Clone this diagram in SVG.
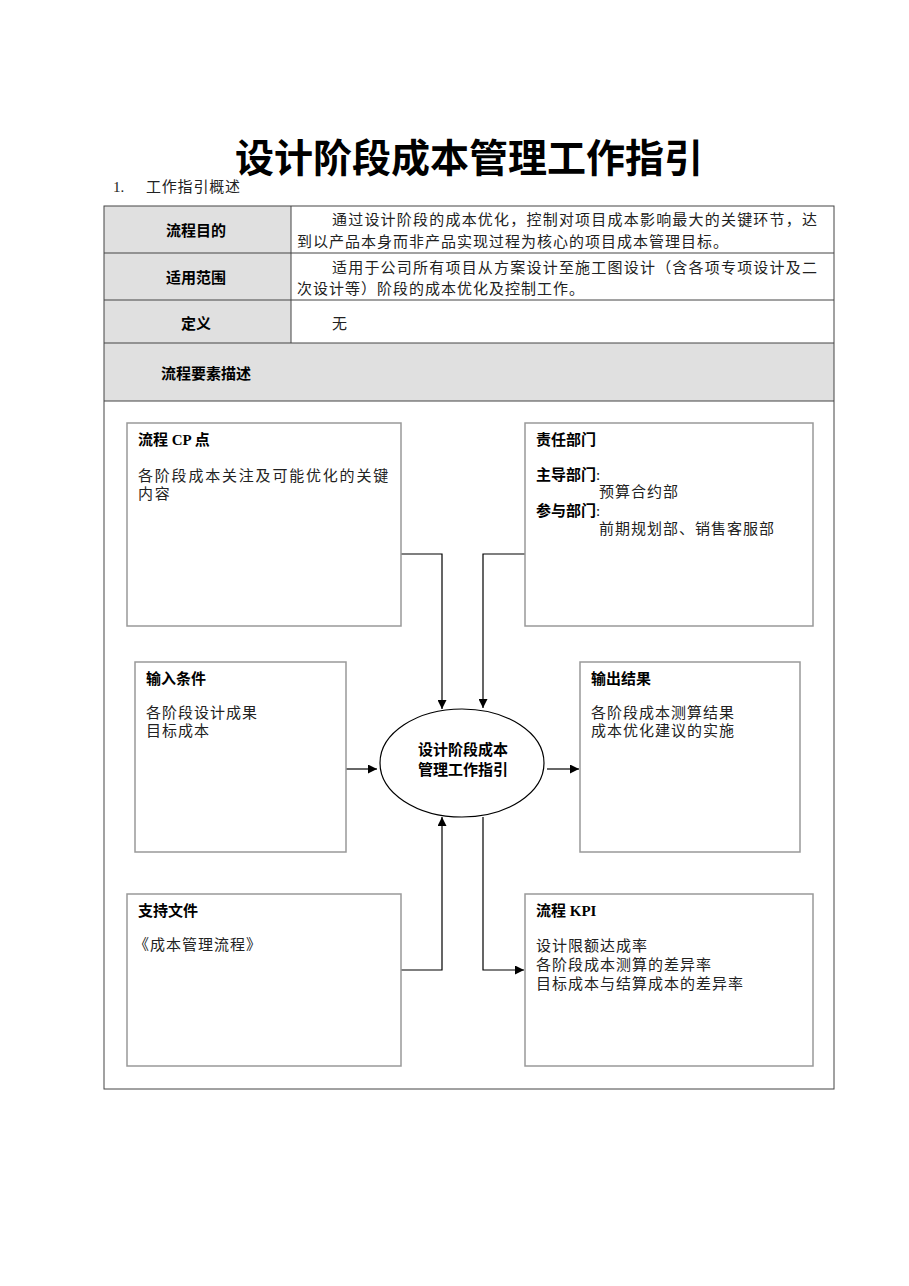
<svg xmlns="http://www.w3.org/2000/svg" width="909" height="1286" viewBox="0 0 909 1286">
<style>
.t{font-family:"Liberation Serif","Noto Sans CJK SC",serif;font-size:15px;fill:#222;letter-spacing:1px}
.b{font-family:"Liberation Serif","Noto Sans CJK SC",sans-serif;font-size:15px;font-weight:bold;fill:#000}
.box{fill:#fff;stroke:#999;stroke-width:1.5}
.tl{stroke:#444;stroke-width:1;fill:none}
.gr{fill:#e0e0e0}
.c{fill:none;stroke:#000;stroke-width:1.2}
</style>
<defs>
<marker id="ah" viewBox="0 0 10 10" refX="10" refY="5" markerWidth="9" markerHeight="9" markerUnits="userSpaceOnUse" orient="auto">
<path d="M0,0 L10,5 L0,10 z" fill="#000"/>
</marker>
</defs>
<rect width="909" height="1286" fill="#fff"/>
<text x="469" y="172" text-anchor="middle" font-family="Noto Sans CJK SC,sans-serif" font-size="39" font-weight="bold" fill="#000">设计阶段成本管理工作指引</text>
<text x="113" y="192" class="t" style="letter-spacing:0">1.</text>
<text x="146" y="192" class="t" style="letter-spacing:0.8px">工作指引概述</text>
<g id="table">
<rect x="104" y="206" width="187" height="137" class="gr"/>
<rect x="104" y="343" width="730" height="58" class="gr"/>
<rect x="104" y="206" width="730" height="883" class="tl"/>
<line x1="104" y1="253" x2="834" y2="253" class="tl"/>
<line x1="104" y1="300" x2="834" y2="300" class="tl"/>
<line x1="104" y1="343" x2="834" y2="343" class="tl"/>
<line x1="104" y1="401" x2="834" y2="401" class="tl"/>
<line x1="291" y1="206" x2="291" y2="343" class="tl"/>
<text x="196" y="236" text-anchor="middle" class="b">流程目的</text>
<text x="196" y="283" text-anchor="middle" class="b">适用范围</text>
<text x="196" y="329" text-anchor="middle" class="b">定义</text>
<text x="161" y="379" class="b">流程要素描述</text>
<text x="332" y="225" class="t" textLength="486" lengthAdjust="spacing">通过设计阶段的成本优化，控制对项目成本影响最大的关键环节，达</text>
<text x="297" y="247" class="t">到以产品本身而非产品实现过程为核心的项目成本管理目标。</text>
<text x="332" y="273" class="t" textLength="486" lengthAdjust="spacing">适用于公司所有项目从方案设计至施工图设计（含各项专项设计及二</text>
<text x="297" y="294" class="t">次设计等）阶段的成本优化及控制工作。</text>
<text x="332" y="329" class="t">无</text>
</g>
<g id="connectors">
<polyline points="401,554 442,554 442,709" class="c" marker-end="url(#ah)"/>
<polyline points="525,554 483,554 483,708" class="c" marker-end="url(#ah)"/>
<line x1="346" y1="769" x2="377" y2="769" class="c" marker-end="url(#ah)"/>
<line x1="547" y1="769" x2="579" y2="769" class="c" marker-end="url(#ah)"/>
<polyline points="401,970 442,970 442,817" class="c" marker-end="url(#ah)"/>
<polyline points="483,817 483,970 524,970" class="c" marker-end="url(#ah)"/>
</g>
<g id="center">
<ellipse cx="462" cy="763" rx="82" ry="54" fill="#fff" stroke="#000" stroke-width="1.2"/>
<text x="463" y="755" text-anchor="middle" class="b">设计阶段成本</text>
<text x="463" y="775" text-anchor="middle" class="b">管理工作指引</text>
</g>
<g id="cp">
<rect x="127" y="423" width="274" height="203" class="box"/>
<text x="138" y="445" class="b">流程 CP 点</text>
<text x="138" y="481" class="t" style="letter-spacing:1.8px">各阶段成本关注及可能优化的关键</text>
<text x="138" y="499" class="t" style="letter-spacing:1.8px">内容</text>
</g>
<g id="dept">
<rect x="525" y="423" width="288" height="203" class="box"/>
<text x="536" y="445" class="b">责任部门</text>
<text x="536" y="480" class="b">主导部门<tspan font-weight="normal">:</tspan></text>
<text x="599" y="497" class="t">预算合约部</text>
<text x="536" y="516" class="b">参与部门<tspan font-weight="normal">:</tspan></text>
<text x="599" y="534" class="t">前期规划部、销售客服部</text>
</g>
<g id="input">
<rect x="135" y="662" width="211" height="190" class="box"/>
<text x="146" y="684" class="b">输入条件</text>
<text x="146" y="718" class="t">各阶段设计成果</text>
<text x="146" y="736" class="t">目标成本</text>
</g>
<g id="output">
<rect x="580" y="662" width="220" height="190" class="box"/>
<text x="591" y="684" class="b">输出结果</text>
<text x="591" y="718" class="t">各阶段成本测算结果</text>
<text x="591" y="736" class="t">成本优化建议的实施</text>
</g>
<g id="support">
<rect x="127" y="894" width="274" height="172" class="box"/>
<text x="138" y="916" class="b">支持文件</text>
<text x="134" y="950" class="t">《成本管理流程》</text>
</g>
<g id="kpi">
<rect x="525" y="894" width="288" height="172" class="box"/>
<text x="536" y="916" class="b">流程 KPI</text>
<text x="536" y="951" class="t">设计限额达成率</text>
<text x="536" y="970" class="t">各阶段成本测算的差异率</text>
<text x="536" y="989" class="t">目标成本与结算成本的差异率</text>
</g>
</svg>
